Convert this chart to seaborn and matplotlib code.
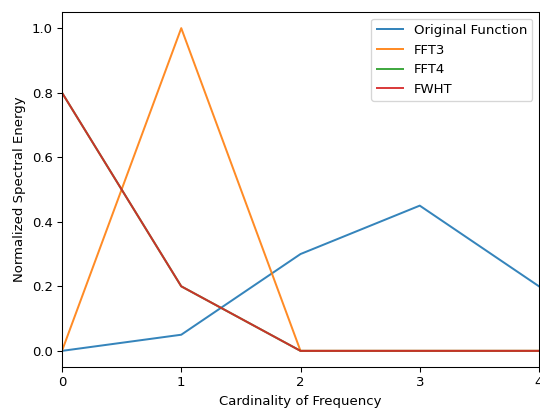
import matplotlib
matplotlib.use("Agg")
import matplotlib.pyplot as plt
import seaborn as sns
import pandas as pd

cardinality = [0, 1, 2, 3, 4]
original = [0.0, 0.05, 0.30, 0.45, 0.20]
fft3 = [0.0, 1.0, 0.0, 0.0, 0.0]
fft4 = [0.8, 0.2, 0.0, 0.0, 0.0]
fwht = [0.8, 0.2, 0.0, 0.0, 0.0]

series = {"Original Function": original, "FFT3": fft3, "FFT4": fft4, "FWHT": fwht}
rows = []
for name, vals in series.items():
    for c, v in zip(cardinality, vals):
        rows.append({"Cardinality": c, "Energy": v, "Method": name})
df = pd.DataFrame(rows)

palette = {"Original Function": "#1f77b4", "FFT3": "#ff7f0e",
           "FFT4": "#2ca02c", "FWHT": "#d62728"}

DPI = 95.3
fig = plt.figure(figsize=(540 / DPI, 408 / DPI), dpi=DPI)
ax = fig.add_axes([62 / 540, 41 / 408, 477 / 540, 355 / 408])
sns.lineplot(data=df, x="Cardinality", y="Energy", hue="Method",
             palette=palette, linewidth=1.5, ax=ax, alpha=0.9)
ax.set_xlim(0, 4)
ax.set_xticks(cardinality)
ax.set_yticks([0.0, 0.2, 0.4, 0.6, 0.8, 1.0])
ax.set_xlabel("Cardinality of Frequency")
ax.set_ylabel("Normalized Spectral Energy")
ax.legend(loc="upper right", title=None)
fig.savefig("out.png", dpi=DPI)
